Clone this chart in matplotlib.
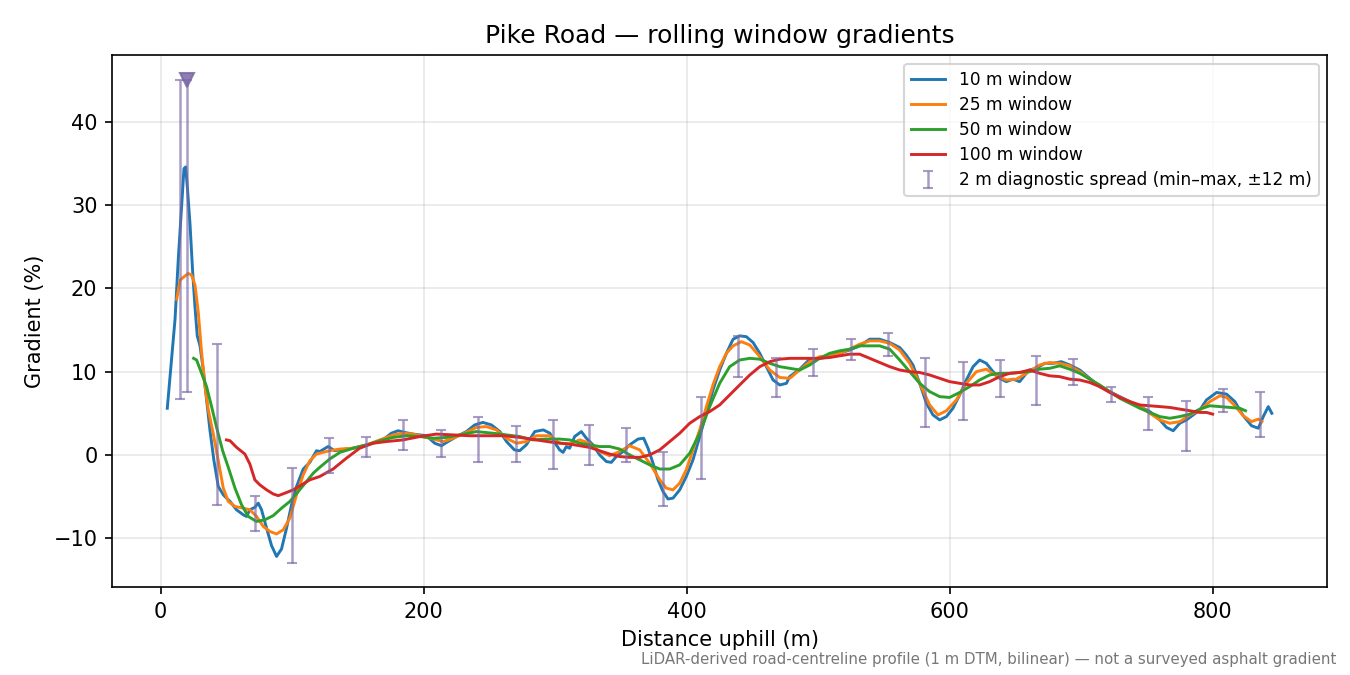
import matplotlib
matplotlib.use("Agg")
import matplotlib.pyplot as plt
import numpy as np

# ── 10 m window ──
x10 = [5, 8.4, 10.9, 13.4, 16, 17.7, 19, 20.5, 22.3, 24.3, 26, 27.8, 29.9, 32.4, 34.9,
       37.5, 40.5, 43.8, 47.6, 52.7, 57.7, 62.8, 65.3, 67.8, 71.6, 74.2, 76.7, 80.5,
       84.3, 88.1, 91.9, 95.7, 99.5, 103.3, 108.4, 113.4, 118.5, 121, 127.3, 132.3,
       138.6, 146, 154, 161.5, 169, 175.4, 180.5, 185.5, 191.8, 197, 202, 208.4, 213.5,
       218.5, 225, 232.5, 238.8, 245, 251.5, 258, 263, 269, 273, 278, 284.5, 291, 296,
       300, 303.4, 306, 308.5, 311, 314.8, 319.9, 323.7, 328.8, 333.8, 338.9, 342.7,
       346.5, 351.6, 356.6, 363, 367.3, 370.6, 374.4, 378.2, 382, 385.8, 389.6, 394.7,
       399.7, 404.8, 409.9, 415, 420, 425.1, 430.2, 435.3, 440.3, 445.4, 450.5, 455.6,
       460.6, 465.7, 470.8, 475.9, 478.3, 486, 493.6, 501.1, 508.7, 516.3, 523.9, 531.6,
       539.2, 546.8, 554.4, 562, 567, 572.1, 577.2, 582.3, 587.3, 592.4, 597.5, 602.5,
       607.6, 612.7, 617.8, 622.8, 627.9, 633, 638, 643.1, 648.2, 653.2, 658.3, 660.8,
       665.9, 672.2, 678.5, 684.9, 691.3, 698.9, 706.5, 714.1, 721.7, 729.4, 737, 744.6,
       752.2, 759.8, 764.9, 770, 775, 780.1, 785.2, 790.3, 795.3, 803, 810.6, 816.9,
       823.3, 829.6, 834.7, 838.5, 842.3, 845]
g10 = [5.6, 11.8, 16.3, 23.6, 30.1, 34.4, 34.6, 31.7, 27.7, 22.0, 17.9, 14.3, 13.1, 10.2,
       6.6, 2.9, -0.7, -3.8, -4.8, -5.6, -6.6, -7.2, -7.4, -6.6, -6.3, -5.8, -6.6, -8.8,
       -10.9, -12.2, -11.3, -8.8, -6.0, -3.8, -1.7, -0.9, 0.5, 0.4, 1.0, 0.5, 0.65, 0.8,
       1.1, 1.4, 1.8, 2.6, 2.9, 2.7, 2.5, 2.4, 2.3, 1.4, 1.1, 1.6, 2.2, 2.8, 3.6, 3.9,
       3.6, 2.8, 1.6, 0.6, 0.5, 1.2, 2.8, 3.0, 2.6, 1.4, 0.6, 0.3, 1.0, 0.8, 2.2, 2.8, 2.0,
       1.2, 0.0, -0.8, -0.9, -0.2, 0.4, 1.2, 1.9, 2.0, 0.8, -1.0, -3.0, -4.4, -5.3, -5.2,
       -4.2, -2.6, -0.6, 2.2, 5.0, 7.8, 10.2, 12.2, 13.9, 14.3, 14.2, 13.5, 12.2, 10.6,
       9.0, 8.4, 8.6, 9.4, 10.3, 11.5, 11.6, 11.8, 12.2, 12.6, 13.1, 13.9, 13.9, 13.5,
       12.9, 12.0, 10.8, 8.6, 6.2, 4.8, 4.2, 4.6, 5.6, 7.2, 9.0, 10.6, 11.4, 11.0, 10.0,
       9.2, 8.8, 9.1, 8.8, 9.8, 10.2, 10.4, 11.0, 11.0, 11.2, 10.8, 10.2, 9.2, 8.2, 7.6,
       7.0, 6.4, 5.8, 5.2, 4.2, 3.3, 2.9, 3.8, 4.2, 4.8, 5.4, 6.6, 7.5, 7.3, 6.4, 4.7,
       3.5, 3.2, 4.6, 5.8, 5.0]

# ── 25 m window ──
x25 = [12.2, 14.7, 17.7, 21, 23.5, 26.1, 28.6, 31.1, 33.7, 36.2, 40, 43.8, 47.6, 51.4,
       56.5, 62.8, 67.8, 72.9, 78, 83, 88.1, 93.2, 98.2, 103.3, 108.4, 113.4, 118.5,
       128.5, 136.3, 146.5, 156.6, 166.7, 176.9, 184.5, 192.1, 199.7, 207.3, 214.8,
       222.4, 232.5, 240.1, 247.7, 255.3, 262.9, 270.5, 278.1, 285.7, 295.8, 303.4, 311,
       318.6, 326.2, 333.8, 341.4, 349, 356.6, 364.3, 371.9, 379.5, 384.6, 389.6, 394.7,
       399.7, 404.8, 409.9, 415, 420, 425.1, 430.2, 435.3, 441.6, 448, 455.6, 463.2,
       470.8, 478.4, 486, 493.6, 501.1, 508.7, 516.3, 523.9, 531.6, 539.2, 546.8, 554.4,
       562, 569.6, 577.2, 584.8, 591.1, 597.5, 605.1, 612.7, 620.3, 627.9, 635.5, 643.1,
       650.7, 658.3, 668.4, 676, 683.7, 691.3, 698.9, 706.5, 714.1, 721.7, 729.4, 737,
       744.6, 752.2, 759.8, 767.4, 775, 782.7, 790.3, 797.9, 805.5, 810.6, 816.9, 823.3,
       829.6, 834.7, 837.5]
g25 = [18.7, 21.0, 21.4, 21.8, 21.6, 20.4, 17.1, 12.3, 8.2, 5.4, 2.5, -0.7, -4.0, -5.6,
       -6.2, -6.4, -6.6, -7.4, -8.6, -9.2, -9.5, -9.0, -7.6, -4.8, -2.4, -0.7, 0.1, 0.5,
       0.7, 0.8, 1.2, 1.8, 2.4, 2.6, 2.5, 2.2, 1.9, 1.6, 2.0, 2.7, 3.3, 3.4, 3.0, 2.0, 1.4,
       1.6, 2.3, 2.3, 1.4, 1.3, 1.8, 1.4, 0.4, -0.1, 0.4, 1.1, 0.6, -1.0, -3.0, -4.0, -4.2,
       -3.4, -1.8, 0.6, 3.0, 5.8, 8.4, 10.6, 12.2, 13.1, 13.6, 13.2, 11.8, 10.2, 9.3, 9.2,
       10.2, 11.2, 11.8, 11.9, 12.2, 12.7, 13.3, 13.7, 13.7, 13.4, 12.6, 11.0, 8.6, 6.0,
       4.8, 5.3, 6.6, 8.6, 10.0, 10.3, 9.5, 9.0, 9.1, 9.8, 10.8, 11.1, 11.0, 10.7, 10.0,
       9.1, 8.3, 7.6, 6.9, 6.4, 5.8, 5.0, 4.2, 3.8, 4.0, 4.8, 5.4, 6.4, 7.1, 6.9, 5.9, 4.7,
       4.0, 4.3, 4.0]

# ── 50 m window ──
x50 = [25, 27.3, 31.1, 34.9, 38.7, 42.5, 47.1, 51.4, 56.5, 61.5, 66.6, 72.9, 79.2, 85.6,
       91.9, 98.2, 104.6, 110.9, 116, 120.9, 128.5, 136.3, 146.5, 156.6, 166.7, 176.9,
       187, 197, 207.3, 217.4, 227.5, 240.1, 252.8, 262.9, 273, 283.1, 293.3, 303.4, 311,
       318.6, 326.2, 333.8, 341.4, 349, 356.6, 364.3, 371.9, 379.5, 387.1, 394.7, 402.3,
       409.9, 417.5, 425.1, 432.7, 440.3, 448, 455.6, 463.2, 470.8, 478.4, 486, 493.6,
       501.1, 508.7, 516.3, 523.9, 531.6, 539.2, 546.8, 554.4, 562, 569.6, 577.2, 584.8,
       592.4, 600, 607.6, 615.2, 622.8, 630.4, 638, 645.6, 653.2, 660.8, 668.4, 676,
       683.7, 691.3, 698.9, 706.5, 714.1, 721.7, 729.4, 737, 744.6, 752.2, 759.8, 767.4,
       775, 782.7, 790.3, 797.9, 805.5, 813.1, 820.7, 825]
g50 = [11.6, 11.4, 9.8, 8.2, 5.8, 3.3, 0.5, -1.5, -4.0, -6.0, -7.4, -8.0, -7.8, -7.3,
       -6.4, -5.6, -4.4, -3.2, -2.2, -1.5, -0.5, 0.3, 0.8, 1.2, 1.7, 2.1, 2.3, 2.2, 2.0,
       2.1, 2.4, 2.8, 2.6, 2.4, 2.2, 1.8, 1.9, 1.9, 1.8, 1.4, 1.2, 1.0, 1.0, 0.7, 0.0,
       -0.6, -1.2, -1.7, -1.7, -1.2, 0.2, 2.6, 5.8, 8.6, 10.6, 11.4, 11.6, 11.5, 11.0,
       10.6, 10.4, 10.2, 10.8, 11.6, 12.2, 12.5, 12.7, 13.1, 13.1, 13.1, 12.7, 11.4, 10.0,
       8.6, 7.6, 7.0, 6.9, 7.5, 8.2, 9.0, 9.6, 9.8, 9.8, 9.9, 10.0, 10.3, 10.4, 10.7,
       10.3, 9.8, 9.1, 8.4, 7.6, 6.8, 6.2, 5.6, 5.1, 4.6, 4.4, 4.6, 4.9, 5.5, 5.9, 5.8,
       5.7, 5.6, 5.3]

# ── 100 m window ──
x100 = [50, 52.7, 57.7, 64, 67.8, 71.6, 75.4, 80.5, 85.6, 89.4, 94.4, 100.8, 107.1, 113.4,
        120.9, 131.1, 141.2, 151.3, 161.5, 171.6, 184.3, 197, 209.6, 222.3, 235, 247.6,
        260.3, 273, 285.6, 298.3, 311, 318.6, 326.2, 333.8, 341.4, 349, 356.6, 364.3,
        371.9, 379.5, 387.1, 394.7, 402.3, 409.9, 417.5, 425.1, 432.7, 440.3, 448, 455.6,
        463.2, 470.8, 478.4, 486, 493.6, 501.1, 508.7, 516.3, 523.9, 531.6, 539.2, 546.8,
        554.4, 562, 569.6, 577.2, 584.8, 592.4, 600, 607.6, 615.2, 622.8, 630.4, 638,
        645.6, 653.2, 660.8, 668.4, 676, 683.7, 691.3, 698.9, 706.5, 714.1, 721.7, 729.4,
        737, 744.6, 752.2, 759.8, 767.4, 775, 782.7, 790.3, 795.3, 800]
g100 = [1.8, 1.7, 0.9, 0.1, -1.1, -3.0, -3.6, -4.2, -4.7, -4.9, -4.6, -4.2, -3.6, -3.0,
        -2.6, -1.7, -0.4, 0.8, 1.4, 1.6, 1.8, 2.2, 2.5, 2.4, 2.3, 2.3, 2.3, 2.1, 1.8, 1.5,
        1.3, 1.1, 0.9, 0.5, 0.1, -0.2, -0.3, -0.3, 0.0, 0.6, 1.6, 2.6, 3.8, 4.6, 5.2, 6.0,
        7.2, 8.4, 9.6, 10.6, 11.2, 11.5, 11.6, 11.6, 11.6, 11.6, 11.7, 11.9, 12.1, 12.1,
        11.6, 11.1, 10.6, 10.2, 10.0, 9.9, 9.6, 9.2, 8.8, 8.6, 8.4, 8.4, 8.8, 9.4, 9.8, 9.9,
        10.2, 9.8, 9.5, 9.4, 9.1, 9.0, 8.7, 8.2, 7.5, 6.9, 6.4, 6.0, 5.9, 5.8, 5.7, 5.5,
        5.3, 5.1, 5.1, 4.9]

# ── 2 m diagnostic spread (min / max within ±12 m) ──
spread_x = [15, 43, 72, 100, 128, 156, 184, 213, 241, 270, 298, 326, 354, 382, 411, 439,
            468, 496, 525, 553, 581, 610, 638, 666, 694, 723, 751, 780, 808, 836]
spread_lo = [6.7, -6.0, -9.1, -13.0, -2.2, -0.2, 0.6, -0.2, -0.8, -0.8, -1.7, -1.2, -0.8,
             -6.1, -2.9, 9.4, 6.9, 9.5, 11.4, 11.9, 3.4, 4.2, 7.0, 6.0, 8.4, 6.3, 3.0, 0.5,
             5.1, 2.1]
spread_hi = [45.1, 13.3, -5.0, -1.6, 2.0, 2.2, 4.2, 3.0, 4.5, 3.5, 4.2, 3.6, 3.2, 0.4,
             7.0, 14.3, 11.6, 12.7, 13.9, 14.7, 11.7, 11.1, 11.4, 11.9, 11.5, 8.2, 6.9, 6.5,
             7.9, 7.6]

# steepest 2 m spread, flagged with a marker
peak_x = 20
peak_lo = 7.5
peak_hi = 45.1

SPREAD_COL = "#7a68a6"

fig, ax = plt.subplots(figsize=(9, 4.5), dpi=150)
fig.subplots_adjust(left=0.083, right=0.983, top=0.918, bottom=0.130)

ax.plot(x10, g10, color="#1f77b4", lw=1.4, label="10 m window")
ax.plot(x25, g25, color="#ff7f0e", lw=1.4, label="25 m window")
ax.plot(x50, g50, color="#2ca02c", lw=1.4, label="50 m window")
ax.plot(x100, g100, color="#d62728", lw=1.4, label="100 m window")

mid = (np.array(spread_lo) + np.array(spread_hi)) / 2
err = [mid - np.array(spread_lo), np.array(spread_hi) - mid]
ax.errorbar(spread_x, mid, yerr=err, fmt="none", ecolor=SPREAD_COL, alpha=0.65,
            elinewidth=1.2, capsize=2.5, capthick=1.0,
            label="2 m diagnostic spread (min\u2013max, \u00b112 m)")

pk_mid = (peak_lo + peak_hi) / 2
ax.errorbar([peak_x], [pk_mid], yerr=[[pk_mid - peak_lo], [peak_hi - pk_mid]],
            fmt="none", ecolor=SPREAD_COL, alpha=0.65, elinewidth=1.2,
            capsize=2.5, capthick=1.0)
ax.plot([peak_x], [peak_hi], "v", color=SPREAD_COL, alpha=0.85, markersize=7)

ax.set_title("Pike Road \u2014 rolling window gradients")
ax.set_xlabel("Distance uphill (m)")
ax.set_ylabel("Gradient (%)")
ax.grid(True, alpha=0.3)
ax.legend(loc="upper right", fontsize=8.2, labelspacing=0.42)

fig.text(0.99, 0.012,
         "LiDAR-derived road-centreline profile (1 m DTM, bilinear) \u2014 not a surveyed asphalt gradient",
         fontsize=7.2, color="#777777", ha="right", va="bottom")

fig.savefig("out.png", dpi=150)
